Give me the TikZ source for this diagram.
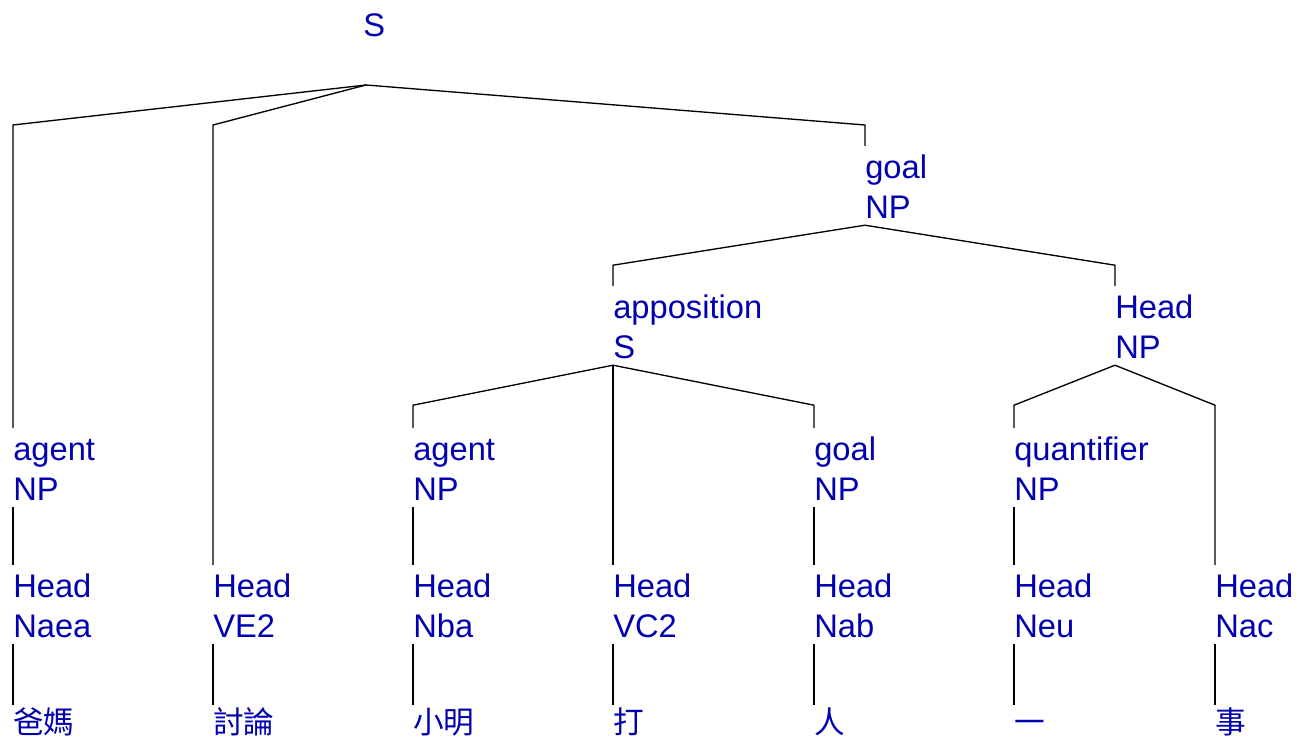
\documentclass[tikz,border=0pt]{standalone}
\usepackage{fontspec}
\setmainfont{Liberation Sans}
\newfontfamily\cjk{Noto Sans CJK TC}
\usetikzlibrary{calc}
\definecolor{tagblue}{RGB}{0,0,176}
% struts fix where the branches meet the labels
\newcommand{\tp}{\rule{0pt}{24pt}}
\newcommand{\bt}{\rule[-5pt]{0pt}{5pt}}
\newcommand{\branch}[2]{\draw[l] (#1.south west) -- ($(#2.north west |- #1.south west)+(0,40)$) -- (#2.north west);}

\begin{document}
\begin{tikzpicture}[x=0.75pt, y=-0.75pt,
  lbl/.style={anchor=north west, inner sep=0pt, align=left, text=tagblue, font=\fontsize{24.5}{30}\selectfont},
  leaf/.style={anchor=north west, inner sep=0pt, text=tagblue, font=\cjk\fontsize{23}{28}\selectfont},
  l/.style={line width=1pt, black}
]
  \useasboundingbox (0,0) rectangle (1311,738);
  % root
  \node[lbl, anchor=base west] (s) at (363,37) {S};
  \coordinate (sJ) at (366,85);
  % labelled constituents
  \node[lbl] (goal)  at (865,146)  {\tp goal\\NP\bt};
  \node[lbl] (app)   at (613,286)  {\tp apposition\\S\bt};
  \node[lbl] (hnp)   at (1115,286) {\tp Head\\NP\bt};
  \node[lbl] (agt)   at (13,428)   {\tp agent\\NP\bt};
  \node[lbl] (agt2)  at (413,428)  {\tp agent\\NP\bt};
  \node[lbl] (goal2) at (814,428)  {\tp goal\\NP\bt};
  \node[lbl] (qnt)   at (1014,428) {\tp quantifier\\NP\bt};
  % heads
  \node[lbl] (naea) at (13,565)   {\tp Head\\Naea\bt};
  \node[lbl] (ve)   at (213,565)  {\tp Head\\VE2\bt};
  \node[lbl] (nba)  at (413,565)  {\tp Head\\Nba\bt};
  \node[lbl] (vc)   at (613,565)  {\tp Head\\VC2\bt};
  \node[lbl] (nab)  at (814,565)  {\tp Head\\Nab\bt};
  \node[lbl] (neu)  at (1014,565) {\tp Head\\Neu\bt};
  \node[lbl] (nac)  at (1215,565) {\tp Head\\Nac\bt};
  % words
  \node[leaf] (w1) at (13,705)   {\rule{0pt}{21pt}爸媽};
  \node[leaf] (w2) at (213,705)  {\rule{0pt}{21pt}討論};
  \node[leaf] (w3) at (413,705)  {\rule{0pt}{21pt}小明};
  \node[leaf] (w4) at (613,705)  {\rule{0pt}{21pt}打};
  \node[leaf] (w5) at (814,705)  {\rule{0pt}{21pt}人};
  \node[leaf] (w6) at (1014,705) {\rule{0pt}{21pt}一};
  \node[leaf] (w7) at (1215,705) {\rule{0pt}{21pt}事};
  % branches
  \draw[l] (sJ) -- ($(agt.north west |- sJ)+(0,40)$) -- (agt.north west);
  \draw[l] (sJ) -- ($(ve.north west |- sJ)+(0,40)$) -- (ve.north west);
  \draw[l] (sJ) -- ($(goal.north west |- sJ)+(0,40)$) -- (goal.north west);
  \branch{goal}{app} \branch{goal}{hnp}
  \branch{app}{agt2} \branch{app}{vc} \branch{app}{goal2}
  \branch{hnp}{qnt} \branch{hnp}{nac}
  \branch{agt}{naea} \branch{agt2}{nba} \branch{goal2}{nab} \branch{qnt}{neu}
  \branch{naea}{w1} \branch{ve}{w2} \branch{nba}{w3} \branch{vc}{w4}
  \branch{nab}{w5} \branch{neu}{w6} \branch{nac}{w7}
\end{tikzpicture}
\end{document}
